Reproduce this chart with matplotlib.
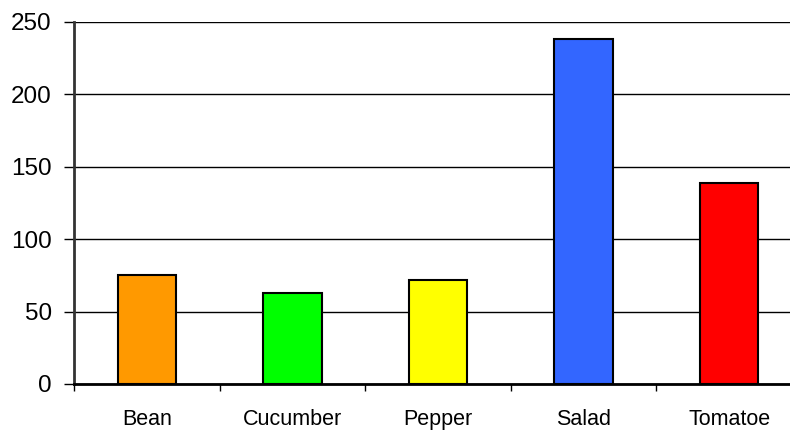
import matplotlib.pyplot as plt

plt.rcParams['font.family'] = ['Liberation Sans', 'DejaVu Sans']

# Vegetables and their counts
categories = ["Bean", "Cucumber", "Pepper", "Salad", "Tomatoe"]
values = [75, 63, 72, 238, 139]
colors = ["#ff9900", "#00ff00", "#ffff00", "#3366ff", "#ff0000"]
y_ticks = [0, 50, 100, 150, 200, 250]

fig = plt.figure(figsize=(7.9, 4.3), dpi=100)
# axes run off the right edge a bit, like the original sheet
ax = fig.add_axes([74 / 790, 1 - 384 / 430, 728 / 790, 362 / 430])

x = [i + 0.5 for i in range(len(categories))]
ax.bar(x, values, width=0.4, color=colors, edgecolor="black", linewidth=1.5, zorder=3)

ax.set_xlim(0, len(categories))
ax.set_ylim(0, 250)
ax.set_yticks(y_ticks)
ax.set_yticklabels([str(v) for v in y_ticks], fontsize=17.5)
ax.tick_params(axis="y", direction="out", length=7, width=1, pad=9)

# category boundaries get the ticks, names sit in the middle
ax.set_xticks(range(len(categories) + 1))
ax.set_xticklabels([])
ax.set_xticks(x, minor=True)
ax.set_xticklabels(categories, minor=True, fontsize=15.5)
ax.tick_params(axis="x", which="major", direction="out", length=5, width=1)
ax.tick_params(axis="x", which="minor", length=0, pad=18)

ax.grid(axis="y", color="black", linewidth=1, zorder=0)
ax.spines["top"].set_visible(False)
ax.spines["right"].set_visible(False)
ax.spines["left"].set_linewidth(2)
ax.spines["left"].set_color("#333333")
ax.spines["bottom"].set_linewidth(2)

fig.savefig("out.png", dpi=100)
